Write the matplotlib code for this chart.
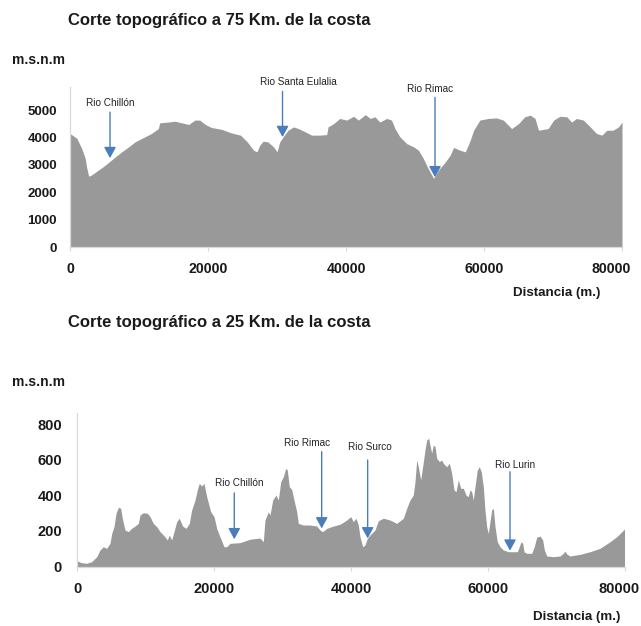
import matplotlib
matplotlib.use("Agg")
import matplotlib.pyplot as plt
from matplotlib.transforms import ScaledTranslation

plt.rcParams['font.family'] = ['Liberation Sans', 'DejaVu Sans']

# ---- Profile 75 km from the coast (distance in m, elevation in m.s.n.m) ----
top_x = [0, 1000, 1700, 2200, 2400, 2700, 3100, 4100, 5100, 6300,
         7500, 8500, 9400, 10400, 11800, 12800, 13000, 14300, 15200, 16200,
         17200, 18100, 18800, 19600, 20500, 22000, 23400, 24700, 25700, 26600,
         27100, 27500, 28000, 28700, 29500, 30000, 30400, 30900, 31600, 32400,
         33100, 34100, 35000, 36200, 37200, 37400, 38200, 39100, 40100, 41100,
         41800, 42800, 43500, 44200, 44900, 45900, 46600, 47100, 47800, 48800,
         49800, 50500, 51200, 51900, 52700, 53400, 54400, 55100, 55600, 56500,
         57300, 58000, 58500, 59400, 60600, 61800, 62800, 64000, 65000, 65900,
         66700, 67400, 67900, 68600, 69300, 70100, 71000, 72000, 72700, 73400,
         74400, 75400, 76300, 77100, 77800, 78700, 79500, 80000]
top_y = [4150, 3970, 3600, 3240, 2930, 2590, 2630, 2810, 2990, 3240,
         3480, 3660, 3840, 3970, 4150, 4330, 4540, 4570, 4600, 4540,
         4480, 4640, 4640, 4480, 4370, 4300, 4170, 4090, 3840, 3540,
         3480, 3720, 3870, 3840, 3660, 3480, 3840, 4030, 4270, 4390,
         4330, 4210, 4090, 4090, 4110, 4390, 4510, 4700, 4640, 4780,
         4640, 4840, 4700, 4760, 4570, 4700, 4640, 4330, 4030, 3780,
         3660, 3540, 3240, 2870, 2510, 2810, 3110, 3360, 3640, 3540,
         3480, 3900, 4270, 4640, 4700, 4720, 4640, 4330, 4510, 4760,
         4820, 4700, 4270, 4300, 4330, 4640, 4780, 4760, 4570, 4700,
         4640, 4390, 4150, 4090, 4270, 4270, 4390, 4570]

# Rivers crossed by the 75 km profile: name, distance, arrow tip, arrow top, label pos
top_rivers = ["Rio Chillón", "Rio Santa Eulalia", "Rio Rimac"]
top_river_x = [5800, 30800, 52900]
top_river_tip = [3250, 4020, 2550]
top_river_top = [4930, 5690, 5470]
top_label_x = [5800, 33040, 52170]
top_label_y = [5260, 6020, 5770]

# ---- Profile 25 km from the coast ----
bot_x = [0, 640, 1370, 2100, 2840, 3320, 3800, 4290, 4780, 5030,
         5370, 5660, 6000, 6340, 6580, 6970, 7460, 7950, 8440, 8920,
         9170, 9650, 10240, 10630, 11110, 11600, 12090, 12820, 13160, 13450,
         13800, 14140, 14530, 14910, 15400, 15890, 16370, 16720, 17210, 17600,
         17840, 18180, 18520, 18920, 19500, 19990, 20380, 20860, 21450, 21840,
         22320, 23790, 25250, 26710, 27190, 27440, 27930, 28170, 28570, 29050,
         29390, 29740, 30120, 30470, 30700, 30990, 31340, 31680, 32080, 32310,
         33040, 34020, 35000, 35480, 35870, 36460, 37430, 38410, 39390, 39970,
         40350, 40750, 41080, 41330, 41720, 42060, 42400, 42790, 43520, 44010,
         44740, 45720, 46700, 47670, 48160, 48640, 49120, 49370, 49620, 49860,
         50200, 50490, 50830, 51080, 51370, 51560, 51810, 52050, 52300, 52540,
         52930, 53270, 53510, 54000, 54390, 54740, 55070, 55370, 55700, 56050,
         56430, 56830, 57160, 57410, 57660, 57890, 58140, 58480, 58770, 59060,
         59360, 59600, 59850, 60090, 60340, 60580, 60820, 61070, 61400, 61800,
         62280, 63010, 63740, 64330, 64620, 64870, 65120, 65310, 65700, 66430,
         66810, 67160, 67650, 68040, 68280, 68630, 69590, 70570, 71050, 71300,
         71550, 72030, 73490, 74960, 76420, 77880, 78860, 80000]
bot_y = [31, 21, 18, 27, 55, 93, 111, 102, 130, 186,
         224, 299, 332, 327, 271, 205, 196, 215, 227, 242,
         289, 302, 299, 280, 242, 224, 196, 167, 149, 177,
         149, 196, 252, 271, 227, 214, 242, 317, 373, 439,
         467, 452, 467, 392, 308, 280, 214, 167, 111, 111,
         130, 134, 153, 160, 139, 261, 308, 289, 373, 401,
         373, 476, 504, 551, 542, 448, 433, 373, 308, 242,
         233, 233, 227, 205, 196, 214, 227, 237, 261, 280,
         252, 271, 233, 167, 111, 121, 158, 177, 205, 257,
         271, 261, 242, 271, 327, 373, 401, 476, 598, 560,
         486, 560, 654, 710, 720, 682, 636, 682, 673, 608,
         589, 598, 580, 560, 580, 523, 430, 420, 486, 439,
         439, 401, 392, 430, 420, 373, 448, 542, 560, 532,
         448, 317, 224, 186, 252, 317, 327, 224, 139, 111,
         93, 83, 83, 83, 111, 139, 130, 83, 74, 74,
         111, 164, 171, 149, 93, 59, 55, 59, 74, 87,
         70, 59, 68, 83, 102, 139, 167, 210]

bot_rivers = ["Rio Chillón", "Rio Rimac", "Rio Surco", "Rio Lurin"]
bot_river_x = [22950, 35730, 42450, 63260]
bot_river_tip = [153, 214, 158, 89]
bot_river_top = [413, 645, 598, 532]
bot_label_x = [23640, 33540, 42790, 64060]
bot_label_y = [469, 695, 669, 570]

x_ticks = [0, 20000, 40000, 60000, 80000]
top_yticks = [0, 1000, 2000, 3000, 4000, 5000]
bot_yticks = [0, 200, 400, 600, 800]

W, H = 641, 626
FILL = "#999999"
ARROW = "#4a7ebb"
AXIS = "#d9d9d9"
TXT = "#1a1a1a"

fig = plt.figure(figsize=(W / 100, H / 100), dpi=100)


def px_rect(left, top, right, bottom):
    return [left / W, 1 - bottom / H, (right - left) / W, (bottom - top) / H]


def style_axes(ax, yticks, ylim, xpad, ypad, xsize, ysize, last_shift):
    ax.set_xlim(0, 80000)
    ax.set_ylim(*ylim)
    ax.set_xticks(x_ticks)
    ax.set_xticklabels([str(v) for v in x_ticks])
    ax.set_yticks(yticks)
    ax.set_yticklabels([str(v) for v in yticks])
    for s in ("top", "right"):
        ax.spines[s].set_visible(False)
    for s in ("left", "bottom"):
        ax.spines[s].set_color(AXIS)
        ax.spines[s].set_linewidth(0.9)
    ax.tick_params(axis="x", length=3, color=AXIS, pad=xpad,
                   labelsize=xsize, labelcolor=TXT)
    ax.tick_params(axis="y", length=0, pad=ypad, labelsize=ysize, labelcolor=TXT)
    for lab in ax.get_xticklabels() + ax.get_yticklabels():
        lab.set_fontweight("bold")
    # keep the rightmost distance label inside the figure
    last = ax.get_xticklabels()[-1]
    last.set_transform(last.get_transform() +
                       ScaledTranslation(-last_shift / 100, 0, fig.dpi_scale_trans))
    ax.set_facecolor("white")


def draw_rivers(ax, names, xs, tips, tops, lx, ly):
    for name, x, tip, top, tx, ty in zip(names, xs, tips, tops, lx, ly):
        ax.annotate("", xy=(x, tip), xytext=(x, top),
                    arrowprops=dict(arrowstyle="-|>,head_length=0.55,head_width=0.3",
                                    color=ARROW, lw=1.0, mutation_scale=12,
                                    shrinkA=0, shrinkB=0))
        ax.text(tx, ty, name, ha="center", va="center", fontsize=7.2,
                color="#222222", clip_on=False)


# Upper profile
ax1 = fig.add_axes(px_rect(70, 87, 622, 247))
ax1.fill_between(top_x, top_y, 0, color=FILL, lw=0)
style_axes(ax1, top_yticks, (0, 5850), xpad=7.5, ypad=9.4, xsize=10.2, ysize=9.5,
           last_shift=11)
draw_rivers(ax1, top_rivers, top_river_x, top_river_tip, top_river_top,
            top_label_x, top_label_y)

# Lower profile
ax2 = fig.add_axes(px_rect(77.3, 413, 624.5, 566.5))
ax2.fill_between(bot_x, bot_y, 0, color=FILL, lw=0)
style_axes(ax2, bot_yticks, (0, 862), xpad=8, ypad=11, xsize=10.5, ysize=10.5,
           last_shift=5)
draw_rivers(ax2, bot_rivers, bot_river_x, bot_river_tip, bot_river_top,
            bot_label_x, bot_label_y)

# Titles and axis captions
def ftext(x, y, s, **kw):
    fig.text(x / W, 1 - y / H, s, color=TXT, fontweight="bold", **kw)

ftext(68, 20, "Corte topográfico a 75 Km. de la costa", fontsize=12, va="center", ha="left")
ftext(68, 322, "Corte topográfico a 25 Km. de la costa", fontsize=12, va="center", ha="left")
ftext(12, 60, "m.s.n.m", fontsize=10, va="center", ha="left")
ftext(12, 382, "m.s.n.m", fontsize=10, va="center", ha="left")
ftext(600, 293, "Distancia (m.)", fontsize=9.6, va="center", ha="right")
ftext(620, 617, "Distancia (m.)", fontsize=9.6, va="center", ha="right")

fig.savefig("out.png", dpi=100, facecolor="white")
